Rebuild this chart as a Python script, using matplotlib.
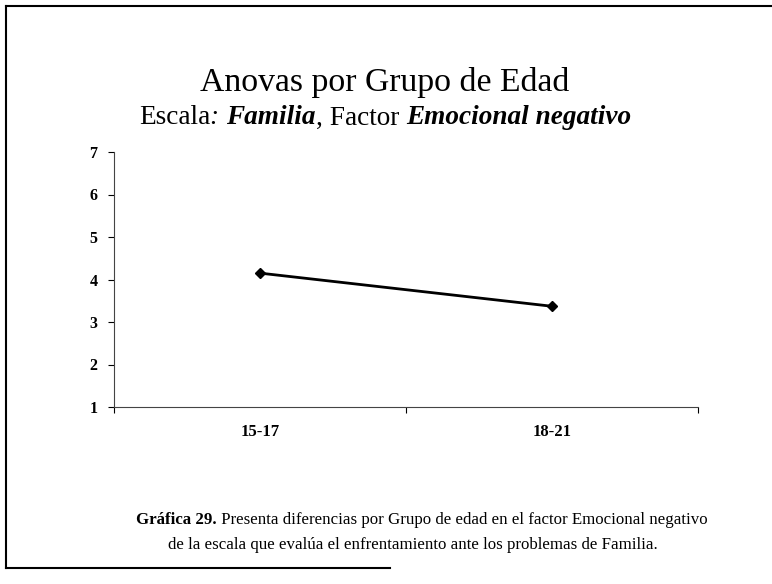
import matplotlib.pyplot as plt
from matplotlib.lines import Line2D

# data
grupos = ["15-17", "18-21"]
medias = [4.15, 3.37]
y_ticks = [1, 2, 3, 4, 5, 6, 7]

serif = ["Liberation Serif", "DejaVu Serif"]

fig = plt.figure(figsize=(7.72, 5.84), dpi=100)
fig.patch.set_facecolor("white")

ax = fig.add_axes([114 / 772, 1 - 407 / 584, 584 / 772, 255 / 584])

ax.plot(
    range(len(grupos)),
    medias,
    color="black",
    linewidth=2,
    marker="D",
    markersize=5,
)

ax.set_xlim(-0.5, len(grupos) - 0.5)
ax.set_ylim(1, 7)
ax.set_yticks(y_ticks)
ax.set_yticklabels([str(t) for t in y_ticks], family=serif, fontweight="bold", fontsize=11.5)

# category labels centred, ticks at the boundaries
ax.set_xticks([-0.5, 0.5, 1.5])
ax.set_xticklabels([])
ax.set_xticks(range(len(grupos)), minor=True)
ax.set_xticklabels(grupos, minor=True, family=serif, fontweight="bold", fontsize=12)
ax.tick_params(axis="x", which="minor", length=0, pad=12)
ax.tick_params(axis="x", which="major", length=4, width=0.8)
ax.tick_params(axis="y", length=4, width=0.8, pad=8)

ax.spines["top"].set_visible(False)
ax.spines["right"].set_visible(False)
ax.spines["left"].set_color("#444444")
ax.spines["bottom"].set_color("#444444")

# titles
fig.text(385 / 772, 1 - 82 / 584, "Anovas por Grupo de Edad",
         family=serif, fontsize=24.3, ha="center", va="center")

fig.canvas.draw()
renderer = fig.canvas.get_renderer()

partes = [
    ("Escala", "normal", "normal"),
    (": ", "normal", "italic"),
    ("Familia", "bold", "italic"),
    (", Factor ", "normal", "normal"),
    ("Emocional negativo", "bold", "italic"),
]
textos = []
for s, w, st in partes:
    t = fig.text(0, 1 - 118 / 584, s, family=serif, fontsize=19.6,
                 fontweight=w, style=st, ha="left", va="center")
    textos.append(t)
fig.canvas.draw()
anchos = [t.get_window_extent(renderer).width for t in textos]
x_px = 385 - sum(anchos) / 2
for t, a in zip(textos, anchos):
    t.set_x(x_px / 772)
    x_px += a

# caption
cap = [
    ("Gráfica 29.", "bold"),
    (" Presenta diferencias por Grupo de edad en el factor Emocional negativo", "normal"),
]
ctextos = [fig.text(0, 1 - 520 / 584, s, family=serif, fontsize=12.2,
                    fontweight=w, ha="left", va="center") for s, w in cap]
fig.canvas.draw()
canchos = [t.get_window_extent(renderer).width for t in ctextos]
x_px = 422 - sum(canchos) / 2
for t, a in zip(ctextos, canchos):
    t.set_x(x_px / 772)
    x_px += a

fig.text(413 / 772, 1 - 545 / 584,
         "de la escala que evalúa el enfrentamiento ante los problemas de Familia.",
         family=serif, fontsize=12.2, ha="center", va="center")

# frame of the scanned page
fig.add_artist(Line2D([6 / 772, 6 / 772], [1 - 6 / 584, 1 - 568 / 584], color="black", linewidth=1.5))
fig.add_artist(Line2D([6 / 772, 1.0], [1 - 6 / 584, 1 - 6 / 584], color="black", linewidth=1.5))
fig.add_artist(Line2D([6 / 772, 390 / 772], [1 - 568 / 584, 1 - 568 / 584], color="black", linewidth=1.5))

fig.savefig("out.png", dpi=100)
plt.close(fig)
